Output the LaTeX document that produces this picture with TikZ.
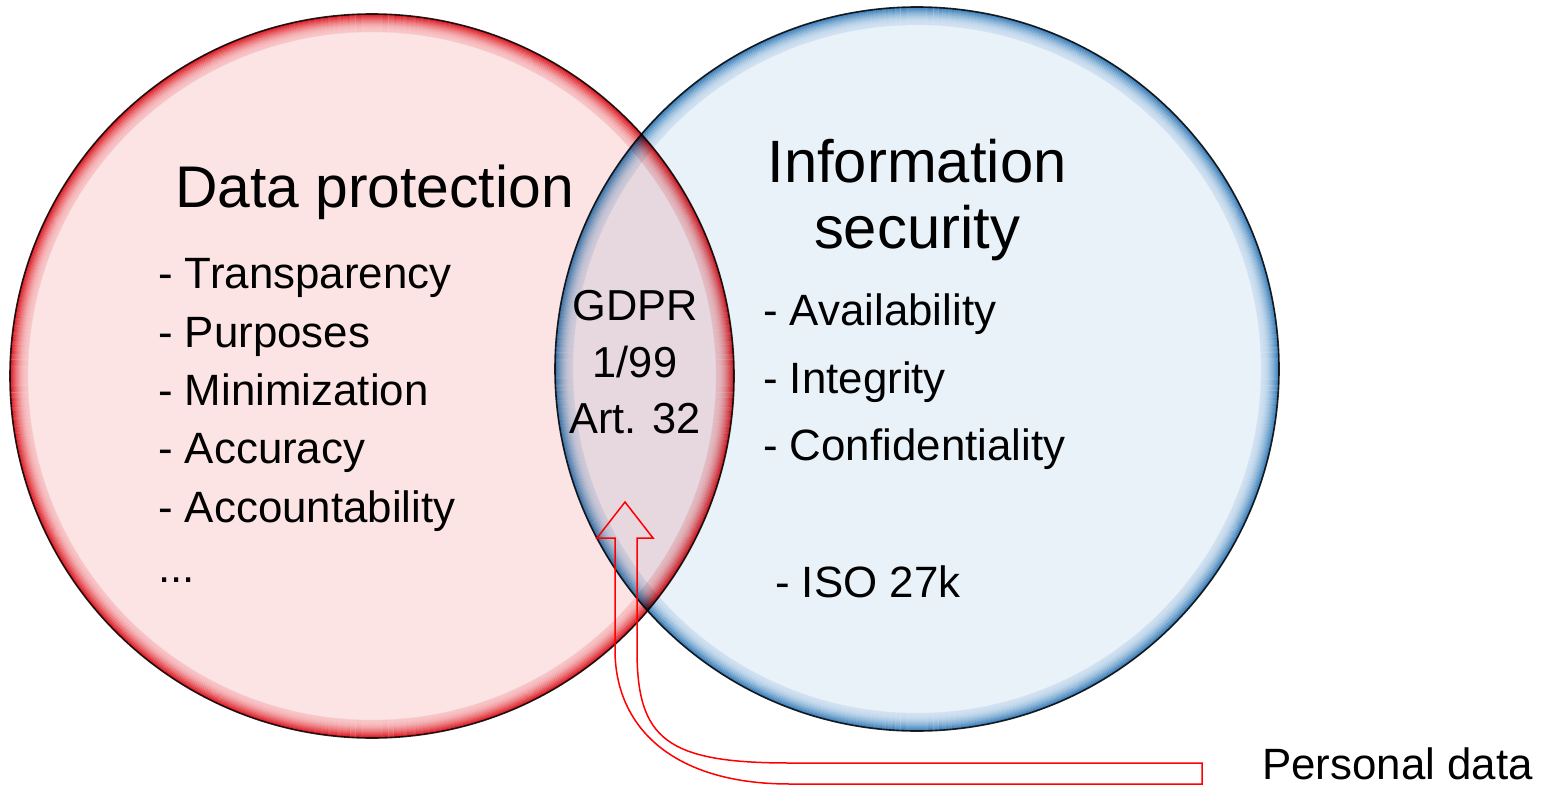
\documentclass[tikz,border=0pt]{standalone}
\usepackage{fontspec}
\setmainfont{Liberation Sans}
\definecolor{pfill}{HTML}{FCE4E5}
\definecolor{pedge}{HTML}{E5242F}
\definecolor{bfill}{HTML}{EAF2F9}
\definecolor{bedge}{HTML}{4E96C9}
\definecolor{arrowred}{HTML}{FF0000}
\tikzset{
  rim/.style={draw=black!85, line width=1.6bp},
  titletext/.style={inner sep=0pt, font=\fontsize{59}{66}\selectfont},
  itemtext/.style={inner sep=0pt, anchor=base west, font=\fontsize{44}{58}\selectfont},
  gdprtext/.style={inner sep=0pt, anchor=base, font=\fontsize{43.5}{57}\selectfont},
  blockarrow/.style={draw=arrowred, line width=1.5bp, line join=miter},
  gloss/.style={draw=white, line width=2.2bp, opacity=0.75}
}
\begin{document}
\begin{tikzpicture}[x=1bp, y=-1bp]
\useasboundingbox (0,0) rectangle (1547,786);
\coordinate (cl) at (372,376);
\coordinate (cr) at (917,369);
\begin{scope}[blend group=multiply]
  \fill[pfill] (cl) circle[radius=362bp];
  \foreach \i in {0,...,17}{
    \pgfmathtruncatemacro\p{100*(1-\i/17)^2}
    \draw[line width=1.2bp, draw=pedge!\p!pfill] (cl) circle[radius=361.5bp-\i bp];
  }
  \draw[gloss] (cl) circle[radius=347bp];
  \fill[bfill] (cr) circle[radius=362bp];
  \foreach \i in {0,...,17}{
    \pgfmathtruncatemacro\p{100*(1-\i/17)^2}
    \draw[line width=1.2bp, draw=bedge!\p!bfill] (cr) circle[radius=361.5bp-\i bp];
  }
  \draw[gloss] (cr) circle[radius=347bp];
  \draw[rim] (cl) circle[radius=362bp];
  \draw[rim] (cr) circle[radius=362bp];
\end{scope}

% titles
\node[titletext, anchor=base west] (dp) at (175,207) {Data protection};
\node[titletext, anchor=base, font=\fontsize{60}{66}\selectfont] (is1) at (917,182) {Information};
\node[titletext, anchor=base, font=\fontsize{60}{66}\selectfont] (is2) at (917,248) {security};

% left list
\node[itemtext] (l1) at (158,288) {- Transparency};
\node[itemtext] (l2) at (158,347) {- Purposes};
\node[itemtext] (l3) at (158,405) {- Minimization};
\node[itemtext] (l4) at (158,463) {- Accuracy};
\node[itemtext] (l5) at (158,522) {- Accountability};
\node[itemtext] (l6) at (158,582) {...};

% right list
\node[itemtext] (r1) at (763,325) {- Availability};
\node[itemtext] (r2) at (763,393) {- Integrity};
\node[itemtext] (r3) at (763,460) {- Confidentiality};
\node[itemtext] (r4) at (775,597) {- ISO 27k};

% intersection
\node[gdprtext] (g1) at (635,320) {GDPR};
\node[gdprtext] (g2) at (635,377) {1/99};
\node[gdprtext] (g3) at (635,433) {Art. 32};

% personal data
\node[itemtext] (pd) at (1262,779) {Personal data};

% block arrow
\coordinate (tip) at (625,502);
\draw[blockarrow] (tip) -- (653,538) -- (637,538) -- (637,650)
  .. controls (637,739) and (666,763) .. (790,763)
  -- (1202,763) -- (1202,784) -- (790,784)
  .. controls (670,784) and (615,725) .. (615,650)
  -- (615,538) -- (597,538) -- cycle;
\end{tikzpicture}
\end{document}
